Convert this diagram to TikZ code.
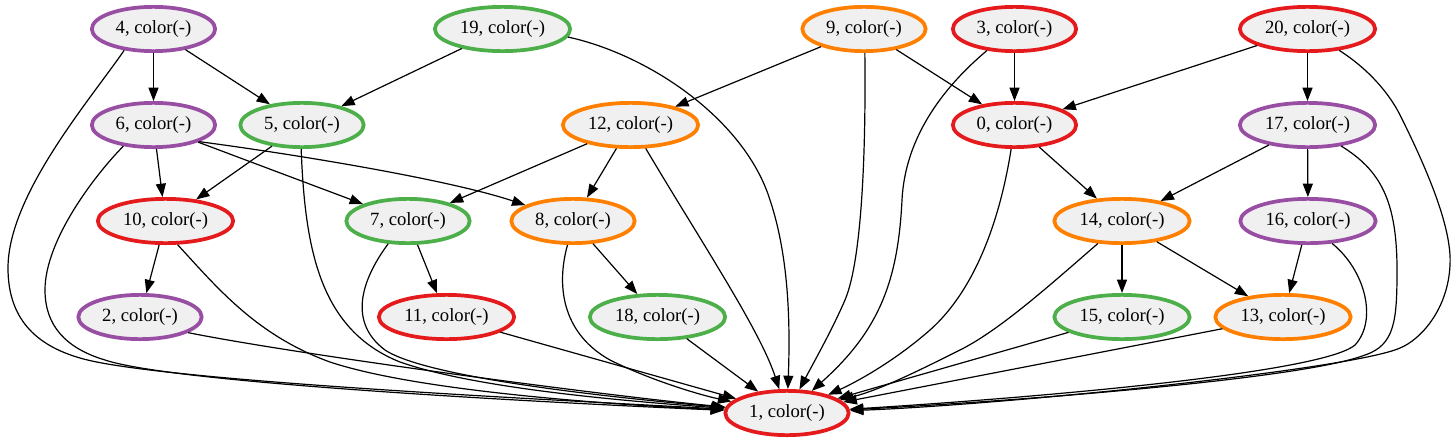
\documentclass[tikz,border=0pt]{standalone}
\usepackage{fontspec}
\setmainfont{Liberation Serif}
\usetikzlibrary{shapes.geometric,arrows.meta}
\definecolor{cred}{HTML}{E41A1C}
\definecolor{cgreen}{HTML}{4DAF4A}
\definecolor{cpurple}{HTML}{984EA3}
\definecolor{corange}{HTML}{FF7F00}
\definecolor{nfill}{HTML}{F0F0F0}
\begin{document}
\begin{tikzpicture}[x=0.75pt,y=-0.75pt,
 nd/.style={ellipse, draw, line width=2.8pt, fill=nfill, minimum width=92.5pt, minimum height=33.2pt, inner sep=0pt, font=\fontsize{14pt}{16pt}\selectfont},
 wd/.style={minimum width=101.5pt},
 ed/.style={line width=0.9pt, -{Triangle[length=10pt,width=7.5pt]}},
]
\useasboundingbox (0,0) rectangle (1456,443);
% nodes
\node[nd,draw=cpurple] (n4) at (153.5,29) {4, color(-)};
\node[nd,wd,draw=cgreen] (n19) at (502.5,29) {19, color(-)};
\node[nd,draw=corange] (n9) at (864,29) {9, color(-)};
\node[nd,draw=cred] (n3) at (1014.5,29) {3, color(-)};
\node[nd,wd,draw=cred] (n20) at (1307.5,29) {20, color(-)};
\node[nd,draw=cpurple] (n6) at (153.5,125) {6, color(-)};
\node[nd,draw=cgreen] (n5) at (302,125) {5, color(-)};
\node[nd,wd,draw=corange] (n12) at (630.5,125) {12, color(-)};
\node[nd,draw=cred] (n0) at (1014.5,125) {0, color(-)};
\node[nd,wd,draw=cpurple] (n17) at (1307.5,125) {17, color(-)};
\node[nd,wd,draw=cred] (n10) at (165.5,221) {10, color(-)};
\node[nd,draw=cgreen] (n7) at (408,221) {7, color(-)};
\node[nd,draw=corange] (n8) at (573,221) {8, color(-)};
\node[nd,wd,draw=corange] (n14) at (1122,221) {14, color(-)};
\node[nd,wd,draw=cpurple] (n16) at (1308,221) {16, color(-)};
\node[nd,draw=cpurple] (n2) at (140,317) {2, color(-)};
\node[nd,wd,draw=cred] (n11) at (446.5,317) {11, color(-)};
\node[nd,wd,draw=cgreen] (n18) at (657.5,317) {18, color(-)};
\node[nd,wd,draw=cgreen] (n15) at (1122,317) {15, color(-)};
\node[nd,wd,draw=corange] (n13) at (1283,317) {13, color(-)};
\node[nd,draw=cred] (n1) at (787,413) {1, color(-)};
% straight edges
\draw[ed] (n4) -- (n6);
\draw[ed] (n4) -- (n5);
\draw[ed] (n19) -- (n5);
\draw[ed] (n9) -- (n12);
\draw[ed] (n9) -- (n0);
\draw[ed] (n3) -- (n0);
\draw[ed] (n20) -- (n0);
\draw[ed] (n20) -- (n17);
\draw[ed] (n6) -- (n10);
\draw[ed] (n6.-21) -- (n7);
\draw[ed] (n6.-20) .. controls (300,155) and (450,180) .. (n8);
\draw[ed] (n5) -- (n10);
\draw[ed] (n12) -- (n7);
\draw[ed] (n12) -- (n8);
\draw[ed] (n0) -- (n14);
\draw[ed] (n17) -- (n14);
\draw[ed] (n17) -- (n16);
\draw[ed] (n10) -- (n2);
\draw[ed] (n7) -- (n11);
\draw[ed] (n8) -- (n18);
\draw[ed] (n14) -- (n15);
\draw[ed] (n14) -- (n13);
\draw[ed] (n16) -- (n13);
% edges into node 1
\draw[ed] (n4.-144) .. controls (90,100) and (8,195) .. (8,268) .. controls (8,318) and (35,345) .. (80,358) .. controls (160,382) and (600,402) .. (n1);
\draw[ed] (n6.-145) .. controls (95,175) and (45,240) .. (45,290) .. controls (45,325) and (65,348) .. (105,360) .. controls (180,385) and (600,405) .. (n1);
\draw[ed] (n10.-63) .. controls (215,285) and (255,335) .. (330,362) .. controls (420,392) and (620,405) .. (n1);
\draw[ed] (n2.-18) .. controls (300,355) and (600,395) .. (n1);
\draw[ed] (n5.-92) .. controls (305,250) and (320,330) .. (400,362) .. controls (480,390) and (640,402) .. (n1);
\draw[ed] (n7.-131) .. controls (365,275) and (345,320) .. (385,350) .. controls (430,380) and (640,400) .. (n1);
\draw[ed] (n11) -- (n1);
\draw[ed] (n8.-103) .. controls (555,290) and (565,335) .. (610,360) .. controls (650,380) and (700,395) .. (n1);
\draw[ed] (n12.-57) .. controls (700,240) and (760,330) .. (n1);
\draw[ed] (n18) -- (n1);
\draw[ed] (n19.-7) .. controls (650,55) and (745,120) .. (770,200) .. controls (790,260) and (790,330) .. (n1);
\draw[ed] (n9.-88) .. controls (866,150) and (862,260) .. (845,300) .. controls (832,330) and (815,360) .. (n1);
\draw[ed] (n3.-142) .. controls (940,90) and (905,140) .. (902,200) .. controls (898,280) and (880,330) .. (n1);
\draw[ed] (n0.-98) .. controls (1000,220) and (975,290) .. (930,330) .. controls (890,365) and (850,385) .. (n1);
\draw[ed] (n14.-137) .. controls (1050,285) and (1000,330) .. (960,350) .. controls (920,370) and (880,390) .. (n1);
\draw[ed] (n15) -- (n1);
\draw[ed] (n13) -- (n1);
\draw[ed] (n16.-43) .. controls (1365,270) and (1378,320) .. (1355,345) .. controls (1320,375) and (1000,400) .. (n1);
\draw[ed] (n17.-32) .. controls (1380,170) and (1397,200) .. (1397,270) .. controls (1397,320) and (1395,345) .. (1365,355) .. controls (1300,380) and (1000,402) .. (n1);
\draw[ed] (n20.-34) .. controls (1370,70) and (1390,95) .. (1400,115) .. controls (1430,175) and (1452,230) .. (1450,265) .. controls (1448,310) and (1420,340) .. (1400,348) .. controls (1350,370) and (1000,405) .. (n1);
\end{tikzpicture}
\end{document}
